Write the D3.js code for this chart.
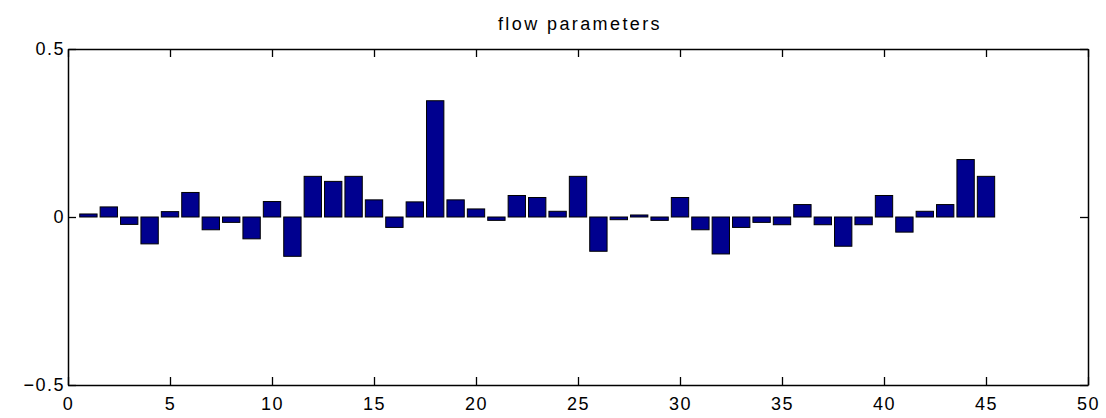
<!DOCTYPE html>
<html>
<head>
<meta charset="utf-8">
<script src="https://cdn.jsdelivr.net/npm/d3@7"></script>
<style>
  body { margin: 0; background: #fff; }
  svg { display: block; }
  text { font-family: "Liberation Sans", Arial, Helvetica, sans-serif; fill: #000; }
</style>
</head>
<body>
<svg id="chart" width="1106" height="418"></svg>
<script>
// Parameter indices and their estimated flow values
const paramIndex = d3.range(1, 46);
const flowValues = [
  0.009, 0.030, -0.022, -0.080, 0.016, 0.073, -0.038, -0.016, -0.065, 0.046,
  -0.117, 0.121, 0.106, 0.121, 0.051, -0.031, 0.045, 0.346, 0.051, 0.024,
  -0.010, 0.064, 0.058, 0.017, 0.121, -0.102, -0.008, 0.006, -0.010, 0.058,
  -0.038, -0.110, -0.031, -0.016, -0.023, 0.037, -0.023, -0.087, -0.023, 0.064,
  -0.045, 0.017, 0.037, 0.171, 0.121
];
const xTicks = [0, 5, 10, 15, 20, 25, 30, 35, 40, 45, 50];
const yTicks = [-0.5, 0, 0.5];
const titleText = "flow parameters";

const svg = d3.select("#chart");
const m = { left: 68, right: 1088, top: 49, bottom: 385 };

const x = d3.scaleLinear().domain([0, 50]).range([m.left, m.right]);
const y = d3.scaleLinear().domain([-0.5, 0.5]).range([m.bottom, m.top]);
const barW = 0.85;

// bars
svg.append("g")
  .selectAll("rect")
  .data(paramIndex.map((k, i) => ({ k, v: flowValues[i] })))
  .join("rect")
  .attr("x", d => x(d.k - barW / 2))
  .attr("width", d => x(d.k + barW / 2) - x(d.k - barW / 2))
  .attr("y", d => y(Math.max(0, d.v)))
  .attr("height", d => Math.max(1, Math.abs(y(d.v) - y(0))))
  .attr("fill", "#00008f")
  .attr("stroke", "#000")
  .attr("stroke-width", 1);

// axes: ticks drawn inward, box around the plot
const tickLen = 8;
const fmtY = d => d === 0 ? "0" : d3.format(".1f")(d).replace("-", "\u2212");

const axisB = d3.axisBottom(x).tickValues(xTicks).tickSizeInner(-tickLen).tickSizeOuter(0).tickPadding(12).tickFormat(d3.format("d"));
const axisT = d3.axisTop(x).tickValues(xTicks).tickSizeInner(-tickLen).tickSizeOuter(0).tickFormat("");
const axisL = d3.axisLeft(y).tickValues(yTicks).tickSizeInner(-tickLen).tickSizeOuter(0).tickPadding(3).tickFormat(fmtY);
const axisR = d3.axisRight(y).tickValues(yTicks).tickSizeInner(-tickLen).tickSizeOuter(0).tickFormat("");

function styleAxis(g) {
  g.select(".domain").attr("stroke", "#000").attr("stroke-width", 1.5);
  g.selectAll(".tick line").attr("stroke", "#000").attr("stroke-width", 1.3);
  g.selectAll(".tick text").attr("font-size", 18).attr("fill", "#000")
    .attr("letter-spacing", "1.5px")
    .attr("font-family", "'Liberation Sans', Arial, sans-serif");
}

svg.append("g").attr("transform", `translate(0,${m.bottom})`).call(axisB).call(styleAxis);
svg.append("g").attr("transform", `translate(0,${m.top})`).call(axisT).call(styleAxis);
svg.append("g").attr("transform", `translate(${m.left},0)`).call(axisL).call(styleAxis);
svg.append("g").attr("transform", `translate(${m.right},0)`).call(axisR).call(styleAxis);

// title
svg.append("text")
  .attr("x", (m.left + m.right) / 2 + 2)
  .attr("y", 30)
  .attr("text-anchor", "middle")
  .attr("font-size", 18)
  .attr("letter-spacing", "2.4px")
  .text(titleText);
</script>
</body>
</html>
